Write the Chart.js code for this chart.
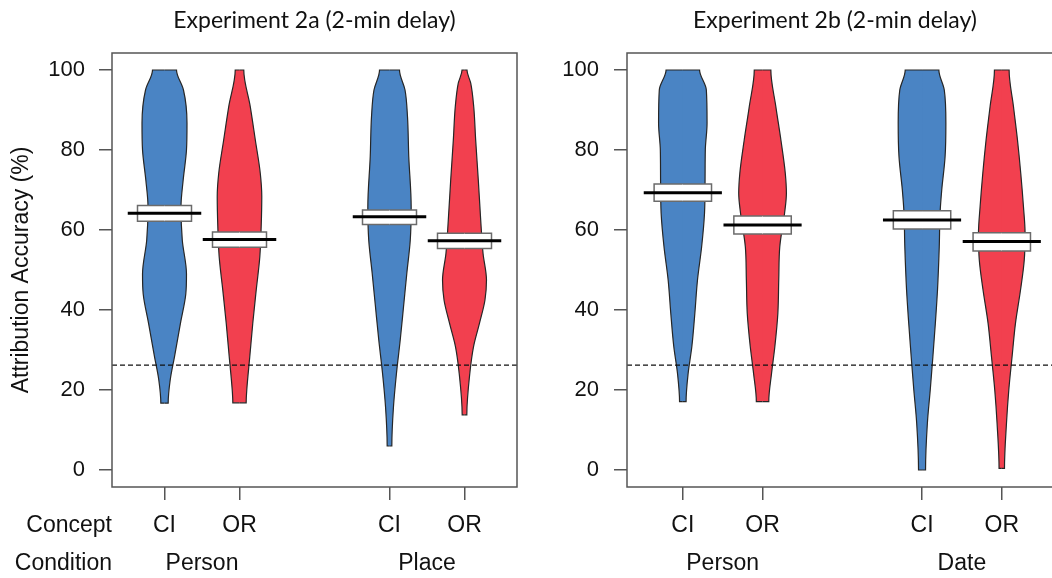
<!DOCTYPE html>
<html>
<head>
<meta charset="utf-8">
<script src="https://cdn.jsdelivr.net/npm/chart.js@4.4.1/dist/chart.umd.min.js"></script>
<style>
  html, body { margin: 0; padding: 0; background: #fff; overflow: hidden; }
  #panelA { position: absolute; left: 0; top: 0; }
  #panelB { position: absolute; left: 526px; top: 0; }
</style>
</head>
<body>
<canvas id="panelA" width="526" height="578"></canvas>
<canvas id="panelB" width="526" height="578"></canvas>
<script>
// category positions on the x axis and their labels
var positions = [1, 2, 4, 5];
var conceptLabels = ['CI', 'OR', 'CI', 'OR'];
var conditionPositions = [1.5, 4.5];
var conditions2a = ['Person', 'Place'];
var conditions2b = ['Person', 'Date'];
var yTicks = [0, 20, 40, 60, 80, 100];
var chance = 26.2;

// Experiment 2a - violin outlines: accuracy levels and half widths (x units)
var lv2aPersonCI = [16.7, 22.5, 28.3, 36.7, 44, 49, 57.5, 65.8, 72.5, 80, 86.7, 95, 100];
var hw2aPersonCI = [0.049, 0.076, 0.133, 0.213, 0.284, 0.293, 0.237, 0.22, 0.249, 0.293, 0.30, 0.253, 0.16];
var lv2aPersonOR = [16.8, 20, 28.3, 36.7, 45, 53.3, 60.8, 68.3, 74.2, 82.5, 90.8, 100];
var hw2aPersonOR = [0.089, 0.097, 0.137, 0.177, 0.223, 0.271, 0.289, 0.297, 0.277, 0.211, 0.144, 0.057];
var lv2aPlaceCI = [6, 15.8, 24.2, 32.5, 40.8, 49.2, 57.5, 65.8, 78.3, 88.3, 95, 100];
var hw2aPlaceCI = [0.031, 0.053, 0.093, 0.143, 0.187, 0.231, 0.277, 0.289, 0.257, 0.24, 0.207, 0.133];
var lv2aPlaceOR = [13.8, 24.2, 30.8, 36.7, 42.5, 47.5, 54.2, 62.5, 72.5, 82.5, 90.8, 96.7, 100];
var hw2aPlaceOR = [0.031, 0.071, 0.12, 0.2, 0.273, 0.293, 0.247, 0.216, 0.184, 0.149, 0.123, 0.083, 0.033];
var means2a = [64.2, 57.6, 63.3, 57.3];
var ciLow2a = [62.2, 55.7, 61.4, 55.4];
var ciHigh2a = [66.1, 59.5, 65.0, 59.2];

// Experiment 2b
var lv2bPersonCI = [17.1, 24.2, 30.8, 39.2, 47.5, 55.8, 64.2, 72.5, 80, 86.7, 95, 100];
var hw2bPersonCI = [0.041, 0.067, 0.113, 0.151, 0.184, 0.236, 0.272, 0.279, 0.282, 0.304, 0.295, 0.21];
var lv2bPersonOR = [17.1, 24.2, 30.8, 39.2, 47.5, 55.8, 64.2, 69.2, 74.2, 82.5, 90.8, 100];
var hw2bPersonOR = [0.078, 0.113, 0.154, 0.192, 0.203, 0.216, 0.276, 0.299, 0.285, 0.23, 0.167, 0.104];
var lv2bDateCI = [0, 11.7, 20, 28.3, 36.7, 45, 55.8, 64.2, 70, 78.3, 86.7, 95, 100];
var hw2bDateCI = [0.044, 0.067, 0.103, 0.136, 0.167, 0.194, 0.216, 0.226, 0.247, 0.289, 0.299, 0.279, 0.211];
var lv2bDateOR = [0.4, 11.7, 20, 28.3, 36.7, 45, 52.5, 59.2, 65.8, 74.2, 82.5, 90.8, 100];
var hw2bDateOR = [0.034, 0.059, 0.088, 0.129, 0.172, 0.235, 0.282, 0.292, 0.272, 0.238, 0.197, 0.147, 0.092];
var means2b = [69.3, 61.25, 62.5, 57.1];
var ciLow2b = [67.2, 59.0, 60.25, 54.75];
var ciHigh2b = [71.5, 63.5, 64.8, 59.3];

var blue = '#4a84c4';
var red = '#f2404f';
var axisFont = "'Liberation Sans', Arial, sans-serif";

// one side of a violin (or of a box), filled back to the centre line
function halfShape(center, levels, widths, sign, color, edge, curved) {
  var pts = [{x: center, y: levels[0]}];
  for (var i = 0; i < levels.length; i++) {
    pts.push({x: center + sign * widths[i], y: levels[i]});
  }
  pts.push({x: center, y: levels[levels.length - 1]});
  return {
    data: pts,
    indexAxis: 'y',
    backgroundColor: color,
    borderColor: edge,
    borderWidth: curved ? 1.2 : 1.5,
    pointRadius: 0,
    cubicInterpolationMode: curved ? 'monotone' : 'default',
    tension: 0,
    fill: {value: sign > 0 ? center : center + 0.015}
  };
}

function buildDatasets(violins, means, lows, highs) {
  var top = [], boxes = [], shapes = [];
  top.push({
    data: [{x: 0.3, y: chance}, {x: 5.7, y: chance}],
    borderColor: '#111', borderWidth: 1.2, borderDash: [5, 3],
    pointRadius: 0, fill: false, clip: false
  });
  for (var i = 0; i < positions.length; i++) {
    var c = positions[i];
    var col = i % 2 === 0 ? blue : red;
    top.push({
      data: [{x: c - 0.49, y: means[i]}, {x: c + 0.49, y: means[i]}],
      borderColor: '#000', borderWidth: 3, pointRadius: 0, fill: false
    });
    var bl = [lows[i], highs[i]];
    var bw = [0.36, 0.36];
    boxes.push(halfShape(c, bl, bw, 1, '#fff', '#6b6b6b', false));
    boxes.push(halfShape(c, bl, bw, -1, '#fff', '#6b6b6b', false));
    shapes.push(halfShape(c, violins[i][0], violins[i][1], 1, col, '#262626', true));
    shapes.push(halfShape(c, violins[i][0], violins[i][1], -1, col, '#262626', true));
  }
  return top.concat(boxes, shapes);
}

var panelFrame = {
  id: 'panelFrame',
  afterDatasetsDraw: function(chart, args, opts) {
    var a = chart.chartArea, ctx = chart.ctx;
    var right = opts.openRight ? chart.width : a.right;
    ctx.save();
    ctx.strokeStyle = '#555';
    ctx.lineWidth = 1.5;
    ctx.beginPath();
    ctx.moveTo(right, a.top);
    ctx.lineTo(a.left, a.top);
    ctx.lineTo(a.left, a.bottom);
    ctx.lineTo(right, a.bottom);
    if (!opts.openRight) ctx.closePath();
    ctx.stroke();
    if (opts.rowLabels) {
      ctx.fillStyle = '#111';
      ctx.font = '23px ' + axisFont;
      ctx.textAlign = 'right';
      ctx.textBaseline = 'middle';
      ctx.fillText(opts.rowLabels[0], a.left, chart.scales.x.top + 13 + 12.2 + 13.8);
      ctx.fillText(opts.rowLabels[1], a.left, chart.scales.x2.top + 13.2 + 13.8);
    }
    ctx.restore();
  }
};

function makePanel(id, cfg) {
  new Chart(document.getElementById(id), {
    type: 'line',
    data: {datasets: buildDatasets(cfg.violins, cfg.means, cfg.lows, cfg.highs)},
    plugins: [panelFrame],
    options: {
      responsive: false,
      animation: false,
      layout: {padding: {left: 0, right: 9, top: 0, bottom: 0}},
      plugins: {
        legend: {display: false},
        tooltip: {enabled: false},
        title: {
          display: true, text: cfg.title, fullSize: false,
          font: {family: 'Lato', size: 23, weight: 'normal'}, color: '#111',
          padding: {top: 6.5, bottom: 18.9}
        },
        panelFrame: {openRight: cfg.openRight, rowLabels: cfg.rowLabels}
      },
      scales: {
        x: {
          type: 'linear', min: 0.3, max: cfg.xMax,
          afterBuildTicks: function(s) { s.ticks = positions.map(function(v) { return {value: v}; }); },
          afterFit: function(s) { s.height = 50; },
          ticks: {
            callback: function(v, i) { return conceptLabels[i]; },
            font: {family: axisFont, size: 23}, color: '#111',
            padding: 12.2, maxRotation: 0, autoSkip: false
          },
          grid: {drawOnChartArea: false, tickLength: 13, color: '#555', lineWidth: 1.5},
          border: {display: false}
        },
        x2: {
          type: 'linear', axis: 'x', position: 'bottom', weight: 1,
          min: 0.3, max: cfg.xMax,
          afterBuildTicks: function(s) { s.ticks = conditionPositions.map(function(v) { return {value: v}; }); },
          afterFit: function(s) { s.height = 41; },
          ticks: {
            callback: function(v, i) { return cfg.conditions[i]; },
            font: {family: axisFont, size: 23}, color: '#111',
            padding: 13.2, maxRotation: 0, autoSkip: false
          },
          grid: {display: false, drawTicks: false},
          border: {display: false}
        },
        y: {
          type: 'linear', min: -4.25, max: 104.25,
          afterBuildTicks: function(s) { s.ticks = yTicks.map(function(v) { return {value: v}; }); },
          afterFit: function(s) { s.width = cfg.yWidth; },
          ticks: {font: {family: axisFont, size: 22}, color: '#111', padding: cfg.yPad},
          grid: {drawOnChartArea: false, tickLength: 13, color: '#555', lineWidth: 1.5},
          border: {display: false},
          title: {
            display: !!cfg.yTitle, text: cfg.yTitle,
            font: {family: axisFont, size: 23}, color: '#111',
            padding: {top: 7.6, bottom: 0}
          }
        }
      }
    }
  });
}

makePanel('panelA', {
  title: 'Experiment 2a (2-min delay)',
  violins: [[lv2aPersonCI, hw2aPersonCI], [lv2aPersonOR, hw2aPersonOR],
            [lv2aPlaceCI, hw2aPlaceCI], [lv2aPlaceOR, hw2aPlaceOR]],
  means: means2a, lows: ciLow2a, highs: ciHigh2a,
  conditions: conditions2a, rowLabels: ['Concept', 'Condition'],
  yTitle: 'Attribution Accuracy (%)', yWidth: 112, yPad: 14,
  xMax: 5.7, openRight: false
});

makePanel('panelB', {
  title: 'Experiment 2b (2-min delay)',
  violins: [[lv2bPersonCI, hw2bPersonCI], [lv2bPersonOR, hw2bPersonOR],
            [lv2bDateCI, hw2bDateCI], [lv2bDateOR, hw2bDateOR]],
  means: means2b, lows: ciLow2b, highs: ciHigh2b,
  conditions: conditions2b, rowLabels: null,
  yTitle: '', yWidth: 101, yPad: 15,
  xMax: 5.517, openRight: true
});
</script>
</body>
</html>
